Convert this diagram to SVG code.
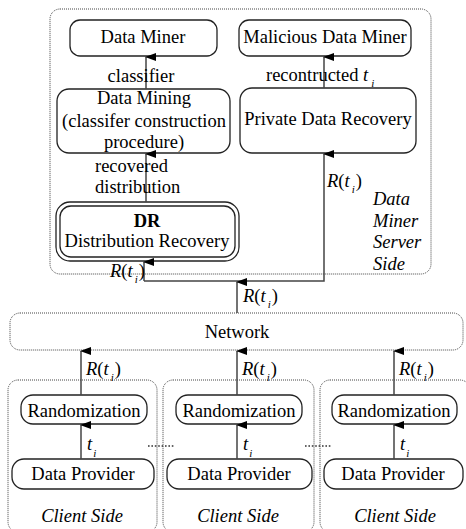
<svg xmlns="http://www.w3.org/2000/svg" width="466" height="529" viewBox="0 0 466 529">
<style>
text{font-family:"Liberation Serif","Times New Roman",serif;font-size:18.5px;fill:#000;}
.c{text-anchor:middle;}
.it{font-style:italic;}
.box{fill:none;stroke:#222;stroke-width:1.3;}
.dot{fill:none;stroke:#444;stroke-width:1;stroke-dasharray:1 1;}
.dots{fill:none;stroke:#333;stroke-width:1.6;stroke-dasharray:1.6 1.8;}
.ln{fill:none;stroke:#444;stroke-width:1.5;}
.sub{font-size:11px;font-style:italic;}
</style>
<defs>
<marker id="ah" markerUnits="userSpaceOnUse" markerWidth="8" markerHeight="11" refX="4" refY="1" orient="auto-start-reverse" viewBox="0 0 8 11">
<path d="M4,0 L8,11 L0,11 Z" fill="#000"/>
</marker>
</defs>
<rect width="466" height="529" fill="#fff"/>

<g id="server-side">
<rect class="dot" x="50" y="9" width="381" height="265" rx="10"/>
<text class="it" x="373" y="205">Data</text>
<text class="it" x="373" y="227">Miner</text>
<text class="it" x="373" y="248">Server</text>
<text class="it" x="373" y="270">Side</text>
</g>

<g id="data-miner">
<rect class="box" x="70" y="20" width="147" height="36" rx="10"/>
<text class="c" x="143" y="43">Data Miner</text>
</g>
<g id="malicious-data-miner">
<rect class="box" x="239" y="20" width="172" height="36" rx="10"/>
<text class="c" x="325" y="43">Malicious Data Miner</text>
</g>
<g id="data-mining">
<rect class="box" x="57" y="89" width="173" height="64" rx="12"/>
<text class="c" x="144" y="104">Data Mining</text>
<text class="c" x="144" y="127">(classifer construction</text>
<text class="c" x="144" y="148">procedure)</text>
</g>
<g id="private-data-recovery">
<rect class="box" x="240" y="88" width="176" height="65" rx="12"/>
<text class="c" x="328" y="125">Private Data Recovery</text>
</g>
<g id="distribution-recovery">
<rect class="box" x="56" y="202" width="183" height="59" rx="14"/>
<rect class="box" x="60" y="206" width="175" height="51" rx="11"/>
<text class="c" x="147" y="227" font-weight="bold">DR</text>
<text class="c" x="147" y="247">Distribution Recovery</text>
</g>

<g id="network">
<rect class="dot" x="10" y="313" width="453" height="37" rx="10"/>
<text class="c" x="237" y="338">Network</text>
</g>

<g id="client-1">
<rect class="dot" x="8" y="380" width="149" height="152" rx="10"/>
<rect class="box" x="21" y="395" width="126" height="29" rx="12"/>
<text class="c" x="84" y="417">Randomization</text>
<rect class="box" x="12" y="459" width="142" height="30" rx="12"/>
<text class="c" x="83" y="480">Data Provider</text>
<text class="c it" x="82" y="522">Client Side</text>
</g>
<g id="client-2">
<rect class="dot" x="163" y="380" width="151" height="152" rx="10"/>
<rect class="box" x="176" y="395" width="126" height="29" rx="12"/>
<text class="c" x="239" y="417">Randomization</text>
<rect class="box" x="167" y="459" width="145" height="30" rx="12"/>
<text class="c" x="239" y="480">Data Provider</text>
<text class="c it" x="238" y="522">Client Side</text>
</g>
<g id="client-3">
<rect class="dot" x="320" y="380" width="150" height="152" rx="10"/>
<rect class="box" x="332" y="395" width="125" height="29" rx="12"/>
<text class="c" x="394" y="417">Randomization</text>
<rect class="box" x="324" y="459" width="139" height="30" rx="12"/>
<text class="c" x="393" y="480">Data Provider</text>
<text class="c it" x="395" y="522">Client Side</text>
</g>

<g id="connectors">
<line class="ln" x1="146" y1="89" x2="146" y2="57" marker-end="url(#ah)"/>
<line class="ln" x1="324" y1="88" x2="324" y2="57" marker-end="url(#ah)"/>
<line class="ln" x1="146" y1="202" x2="146" y2="154" marker-end="url(#ah)"/>
<polyline class="ln" points="144,281 324,281 324,154" marker-end="url(#ah)"/>
<line class="ln" x1="144" y1="281" x2="144" y2="262" marker-end="url(#ah)"/>
<line class="ln" x1="237" y1="313" x2="237" y2="282" marker-end="url(#ah)"/>
<line class="ln" x1="81" y1="395" x2="81" y2="351" marker-end="url(#ah)"/>
<line class="ln" x1="237" y1="395" x2="237" y2="351" marker-end="url(#ah)"/>
<line class="ln" x1="394" y1="395" x2="394" y2="351" marker-end="url(#ah)"/>
<line class="ln" x1="81" y1="459" x2="81" y2="425" marker-end="url(#ah)"/>
<line class="ln" x1="237" y1="459" x2="237" y2="425" marker-end="url(#ah)"/>
<line class="ln" x1="394" y1="459" x2="394" y2="425" marker-end="url(#ah)"/>
<line class="dots" x1="148" y1="446" x2="175" y2="446"/>
<line class="dots" x1="305" y1="446" x2="331" y2="446"/>
<text class="c" x="141" y="82">classifier</text>
<text x="266" y="81">recontructed <tspan class="it">t</tspan><tspan class="sub" dx="3" dy="6">i</tspan></text>
<text x="95" y="172">recovered</text>
<text x="95" y="193">distribution</text>
<text x="327" y="187"><tspan class="it">R</tspan>(<tspan class="it">t</tspan><tspan class="sub" dx="2" dy="6">i</tspan><tspan dy="-6" dx="1">)</tspan></text>
<text x="110" y="277"><tspan class="it">R</tspan>(<tspan class="it">t</tspan><tspan class="sub" dx="2" dy="6">i</tspan><tspan dy="-6" dx="1">)</tspan></text>
<text x="243" y="302"><tspan class="it">R</tspan>(<tspan class="it">t</tspan><tspan class="sub" dx="2" dy="6">i</tspan><tspan dy="-6" dx="1">)</tspan></text>
<text x="86" y="375"><tspan class="it">R</tspan>(<tspan class="it">t</tspan><tspan class="sub" dx="2" dy="6">i</tspan><tspan dy="-6" dx="1">)</tspan></text>
<text x="242" y="375"><tspan class="it">R</tspan>(<tspan class="it">t</tspan><tspan class="sub" dx="2" dy="6">i</tspan><tspan dy="-6" dx="1">)</tspan></text>
<text x="399" y="375"><tspan class="it">R</tspan>(<tspan class="it">t</tspan><tspan class="sub" dx="2" dy="6">i</tspan><tspan dy="-6" dx="1">)</tspan></text>
<text x="87" y="450"><tspan class="it">t</tspan><tspan class="sub" dx="1" dy="7">i</tspan></text>
<text x="243" y="450"><tspan class="it">t</tspan><tspan class="sub" dx="1" dy="7">i</tspan></text>
<text x="400" y="450"><tspan class="it">t</tspan><tspan class="sub" dx="1" dy="7">i</tspan></text>
</g>
</svg>
